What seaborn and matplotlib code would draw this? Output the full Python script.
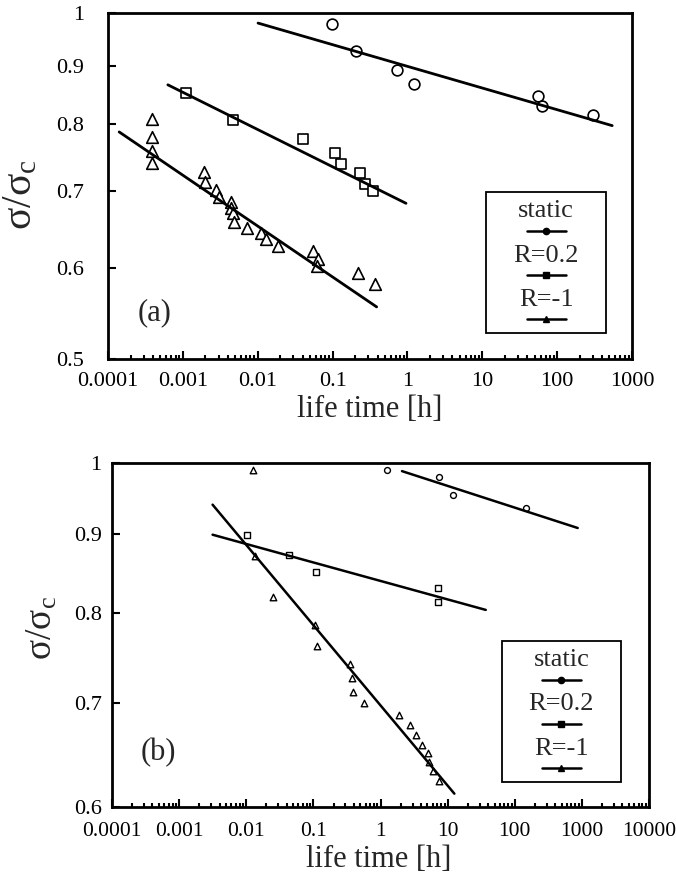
import numpy as np
import pandas as pd
import matplotlib
matplotlib.use("Agg")
import matplotlib.pyplot as plt
import seaborn as sns
from matplotlib.ticker import NullLocator, NullFormatter, LogLocator
from matplotlib.offsetbox import AnchoredOffsetbox, VPacker, TextArea, DrawingArea
from matplotlib.lines import Line2D

# ---------------- data: panel (a) ----------------
static_a_x = [0.098, 0.204, 0.716, 1.22, 56, 63, 305]
static_a_y = [0.979, 0.927, 0.892, 0.868, 0.847, 0.830, 0.816]
r02_a_x = [0.00111, 0.00461, 0.0407, 0.108, 0.129, 0.231, 0.271, 0.35]
r02_a_y = [0.852, 0.807, 0.777, 0.755, 0.739, 0.726, 0.710, 0.700]
rm1_a_x = [0.00039, 0.00039, 0.00039, 0.00039, 0.0019, 0.00195, 0.00277, 0.00307,
           0.0044, 0.0044, 0.00463, 0.00486, 0.00713, 0.0111, 0.0128, 0.0188,
           0.0542, 0.0645, 0.0613, 0.221, 0.369]
rm1_a_y = [0.808, 0.780, 0.758, 0.740, 0.727, 0.713, 0.702, 0.692,
           0.685, 0.677, 0.670, 0.658, 0.650, 0.643, 0.636, 0.627,
           0.621, 0.611, 0.603, 0.594, 0.581]
fit_static_a_x = [0.0101, 544]
fit_static_a_y = [0.980, 0.798]
fit_r02_a_x = [0.00063, 0.957]
fit_r02_a_y = [0.866, 0.683]
fit_rm1_a_x = [0.000141, 0.388]
fit_rm1_a_y = [0.788, 0.555]

# ---------------- data: panel (b) ----------------
static_b_x = [1.25, 7.53, 12.2, 148]
static_b_y = [0.989, 0.979, 0.954, 0.935]
r02_b_x = [0.0102, 0.0434, 0.110, 7.2, 7.2]
r02_b_y = [0.898, 0.872, 0.850, 0.830, 0.814]
rm1_b_x = [0.0126, 0.0133, 0.0248, 0.105, 0.112, 0.35, 0.37, 0.385, 0.56,
           1.9, 2.77, 3.36, 4.1, 5.05, 5.2, 6.1, 7.5]
rm1_b_y = [0.990, 0.871, 0.820, 0.786, 0.762, 0.742, 0.727, 0.712, 0.700,
           0.688, 0.678, 0.668, 0.658, 0.650, 0.641, 0.633, 0.624]
fit_static_b_x = [2.09, 867]
fit_static_b_y = [0.988, 0.908]
fit_r02_b_x = [0.00315, 37]
fit_r02_b_y = [0.899, 0.804]
fit_rm1_b_x = [0.00315, 12.6]
fit_rm1_b_y = [0.940, 0.612]

# ---------------- axes text ----------------
xticks_a = [1e-4, 1e-3, 1e-2, 1e-1, 1, 10, 100, 1000]
xlabels_a = ["0.0001", "0.001", "0.01", "0.1", "1", "10", "100", "1000"]
xticks_b = xticks_a + [10000]
xlabels_b = xlabels_a + ["10000"]
yticks_a = [0.5, 0.6, 0.7, 0.8, 0.9, 1.0]
ylabels_a = ["0.5", "0.6", "0.7", "0.8", "0.9", "1"]
yticks_b = [0.6, 0.7, 0.8, 0.9, 1.0]
ylabels_b = ["0.6", "0.7", "0.8", "0.9", "1"]
legend_labels = ["static", "R=0.2", "R=-1"]
legend_markers = ["o", "s", "^"]

sns.set_style("ticks")
plt.rcParams["font.family"] = ["Liberation Serif", "DejaVu Serif"]
plt.rcParams["mathtext.fontset"] = "custom"
plt.rcParams["mathtext.rm"] = "Liberation Serif"
plt.rcParams["mathtext.it"] = "Liberation Serif:italic"

fig = plt.figure(figsize=(6.76, 8.81), dpi=100)
ax1 = fig.add_axes([108 / 676, (881 - 359) / 881, 524 / 676, 346 / 881])
ax2 = fig.add_axes([112 / 676, (881 - 807) / 881, 537 / 676, 344 / 881])


def style(ax, xmax, ymin, xt, xl, yt, yl, xpad, ypad, xsize):
    ax.set_xscale("log")
    ax.set_yscale("log")
    ax.set_xlim(1e-4, xmax)
    ax.set_ylim(ymin, 1.0)
    ax.set_xticks(xt)
    ax.set_xticklabels(xl)
    ax.xaxis.set_minor_locator(LogLocator(base=10, subs=np.arange(2, 10), numticks=30))
    ax.xaxis.set_minor_formatter(NullFormatter())
    ax.set_yticks(yt)
    ax.set_yticklabels(yl)
    ax.yaxis.set_minor_locator(NullLocator())
    ax.yaxis.set_minor_formatter(NullFormatter())
    ax.tick_params(which="both", direction="in", top=False, right=False,
                   labelsize=16, width=1.5, colors="black")
    ax.tick_params(which="major", length=6)
    ax.tick_params(which="minor", length=3)
    ax.tick_params(axis="x", which="major", pad=xpad, labelsize=xsize)
    ax.tick_params(axis="y", which="major", pad=ypad)
    for sp in ax.spines.values():
        sp.set_linewidth(2)
        sp.set_color("black")
        sp.set_visible(True)


def draw(ax, sets, fits, sizes, lw_mark, lw_line):
    for (x, y), mk, s in zip(sets, legend_markers, sizes):
        sns.scatterplot(x=x, y=y, ax=ax, marker=mk, s=s, color="white",
                        edgecolor="black", linewidth=lw_mark, zorder=3, legend=False)
    for x, y in fits:
        sns.lineplot(x=x, y=y, ax=ax, color="black", lw=lw_line, estimator=None,
                     sort=False, zorder=4, legend=False)


def add_legend(ax, anchor, fs):
    kids = []
    for lab, mk in zip(legend_labels, legend_markers):
        ta = TextArea(lab, textprops=dict(fontsize=fs, family="Liberation Serif"))
        da = DrawingArea(74, 8, 0, 0)
        ln = Line2D([23, 37, 51], [4, 4, 4], color="black", lw=1.8, marker=mk,
                    markevery=[1], markersize=4.5, markerfacecolor="black",
                    markeredgecolor="black")
        da.add_artist(ln)
        kids.append(VPacker(children=[ta, da], align="center", pad=0, sep=2))
    box = VPacker(children=kids, align="center", pad=0, sep=6)
    ab = AnchoredOffsetbox(loc="lower right", child=box, pad=0.6, borderpad=0,
                           frameon=True, bbox_to_anchor=anchor,
                           bbox_transform=ax.transAxes)
    ab.patch.set_boxstyle("square", pad=0)
    ab.patch.set_edgecolor("black")
    ab.patch.set_linewidth(1.3)
    ab.patch.set_facecolor("white")
    ax.add_artist(ab)


draw(ax1, [(static_a_x, static_a_y), (r02_a_x, r02_a_y), (rm1_a_x, rm1_a_y)],
     [(fit_static_a_x, fit_static_a_y), (fit_r02_a_x, fit_r02_a_y), (fit_rm1_a_x, fit_rm1_a_y)],
     [60, 45, 70], 1.2, 2.0)
style(ax1, 1000, 0.5, xticks_a, xlabels_a, yticks_a, ylabels_a, 9, 17, 16)
ax1.set_xlabel("life time [h]", fontsize=22)
ax1.xaxis.set_label_coords(0.5, -0.105)
ax1.set_ylabel("σ/σ$_\\mathrm{c}$", fontsize=30)
ax1.yaxis.set_label_coords(-0.13, 0.474)
ax1.text(0.088, 0.133, "(a)", transform=ax1.transAxes, fontsize=22,
         ha="center", va="center")
add_legend(ax1, (0.950, 0.075), 19)

draw(ax2, [(static_b_x, static_b_y), (r02_b_x, r02_b_y), (rm1_b_x, rm1_b_y)],
     [(fit_static_b_x, fit_static_b_y), (fit_r02_b_x, fit_r02_b_y), (fit_rm1_b_x, fit_rm1_b_y)],
     [18, 16, 22], 1.0, 1.8)
style(ax2, 10000, 0.6, xticks_b, xlabels_b, yticks_b, ylabels_b, 11, 7.5, 15.5)
ax2.set_xlabel("life time [h]", fontsize=22)
ax2.xaxis.set_label_coords(0.497, -0.11)
ax2.set_ylabel("σ/σ$_\\mathrm{c}$", fontsize=27)
ax2.yaxis.set_label_coords(-0.098, 0.52)
ax2.text(0.087, 0.157, "(b)", transform=ax2.transAxes, fontsize=22,
         ha="center", va="center")
add_legend(ax2, (0.948, 0.073), 19)

fig.savefig("out.png", dpi=100)
